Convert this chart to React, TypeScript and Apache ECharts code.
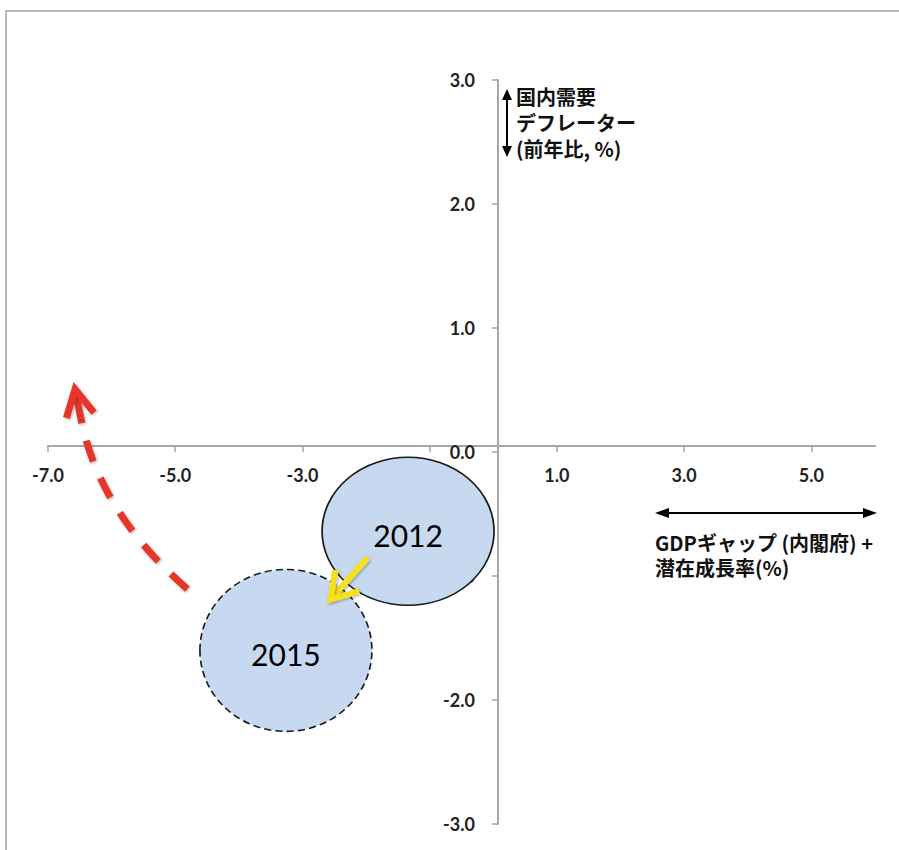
import React, { useEffect, useRef } from "react";
import * as echarts from "echarts";

// ---- data ----
const xTickValues = [-7, -5, -3, -1, 1, 3, 5];
const years = ["2012", "2015"];
const bubbleX = [-1.34, -3.26];
const bubbleY = [-0.64, -1.6];
// yellow arrow: start, tip (data coords)
const yellowArrow = [
  [-1.97, -0.85],
  [-2.56, -1.19],
];
// red dashed arrow: start, control, tip (data coords)
const redArrow = [
  [-4.81, -1.105],
  [-6.19, -0.488],
  [-6.575, 0.505],
];
const yTitleLines = ["国内需要", "デフレーター", "(前年比, %)"];
const xTitleLines = ["GDPギャップ (内閣府) +", "潜在成長率(%)"];

// ---- styles ----
const bubbleSizes = [
  [172, 148],
  [172, 162],
];
const bubbleBorder = ["solid", [7, 4]];
const ELLIPSE = "path://M0,50A50,50,0,1,1,100,50A50,50,0,1,1,0,50Z";
const AXIS_GRAY = "#a6a6a6";
const CJK = "'Noto Sans CJK JP', 'Noto Sans', sans-serif";
const GRID = { left: 48, right: 24, top: 80, bottom: 26 };
const W = 899;
const H = 850;

function head(tip: number[], from: number[], len: number, deg: number) {
  const dx = from[0] - tip[0];
  const dy = from[1] - tip[1];
  const d = Math.hypot(dx, dy) || 1;
  const ux = dx / d;
  const uy = dy / d;
  const a = (deg * Math.PI) / 180;
  const r = (s: number) => [
    tip[0] + len * (ux * Math.cos(s * a) - uy * Math.sin(s * a)),
    tip[1] + len * (ux * Math.sin(s * a) + uy * Math.cos(s * a)),
  ];
  return [r(1), [tip[0], tip[1]], r(-1)];
}

export default function App() {
  const ref = useRef<HTMLDivElement>(null);
  useEffect(() => {
    if (!ref.current) return;
    const chart = echarts.init(ref.current, undefined, { renderer: "svg" });
    const labelStyle = {
      color: "#222222",
      fontFamily: "Lato, 'Open Sans', sans-serif",
      fontWeight: "bold" as const,
      fontSize: 18,
      formatter: (v: number) => Number(v).toFixed(1),
    };
    const titleStyle = {
      fontFamily: CJK,
      fontSize: 20,
      fontWeight: "bold",
      fill: "#111",
      align: "left",
      verticalAlign: "top",
    };
    const option: any = {
      animation: false,
      backgroundColor: "#ffffff",
      grid: { ...GRID, containLabel: false },
      xAxis: {
        type: "value",
        min: -7,
        max: 6,
        position: "bottom",
        offset: 0,
        splitLine: { show: false },
        axisLine: { show: true, onZero: false, lineStyle: { color: AXIS_GRAY, width: 2 } },
        axisTick: { show: true, length: 6, customValues: xTickValues, lineStyle: { color: AXIS_GRAY, width: 1.5 } },
        axisLabel: { ...labelStyle, margin: 20, customValues: xTickValues },
      },
      yAxis: {
        type: "value",
        min: -3,
        max: 3,
        interval: 1,
        position: "left",
        offset: 0,
        splitLine: { show: false },
        axisLine: { show: true, onZero: false, lineStyle: { color: AXIS_GRAY, width: 2 } },
        axisTick: { show: true, length: 6, lineStyle: { color: AXIS_GRAY, width: 1.5 } },
        axisLabel: { ...labelStyle, margin: 23, showMinLabel: true, showMaxLabel: true },
      },
      series: [
        {
          type: "scatter",
          z: 3,
          symbol: ELLIPSE,
          data: years.map((name, i) => ({
            name,
            value: [bubbleX[i], bubbleY[i]],
            symbolSize: bubbleSizes[i],
            itemStyle: {
              color: "#c6d9f1",
              borderColor: "#1a1a1a",
              borderWidth: 1.6,
              borderType: bubbleBorder[i],
              opacity: 1,
            },
          })),
          label: {
            show: true,
            position: "inside",
            formatter: "{b}",
            color: "#000",
            fontSize: 30,
            fontFamily: "Lato, 'Open Sans', sans-serif",
            offset: [0, 4],
          },
          emphasis: { disabled: true },
        },
        {
          type: "custom",
          z: 6,
          clip: false,
          data: [[0, 0]],
          renderItem: (_p: any, api: any) => {
            const s = api.coord(yellowArrow[0]);
            const t = api.coord(yellowArrow[1]);
            const shadow = { shadowBlur: 3, shadowColor: "rgba(0,0,0,0.35)", shadowOffsetX: 1, shadowOffsetY: 1 };
            return {
              type: "group",
              children: [
                {
                  type: "line",
                  shape: { x1: s[0], y1: s[1], x2: t[0], y2: t[1] },
                  style: { stroke: "#f5e11c", lineWidth: 6, ...shadow },
                },
                {
                  type: "polyline",
                  shape: { points: head(t, s, 30, 32) },
                  style: { stroke: "#f5e11c", lineWidth: 6, fill: null, lineJoin: "miter", ...shadow },
                },
              ],
            };
          },
        },
        {
          type: "custom",
          z: 6,
          clip: false,
          data: [[0, 0]],
          renderItem: (_p: any, api: any) => {
            const p0 = api.coord(redArrow[0]);
            const c = api.coord(redArrow[1]);
            const p2 = api.coord(redArrow[2]);
            const dx = c[0] - p2[0];
            const dy = c[1] - p2[1];
            const d = Math.hypot(dx, dy);
            const shaftEnd = [p2[0] + (dx / d) * 30, p2[1] + (dy / d) * 30];
            const shadow = { shadowBlur: 3, shadowColor: "rgba(0,0,0,0.3)", shadowOffsetX: 1, shadowOffsetY: 1 };
            return {
              type: "group",
              children: [
                {
                  type: "bezierCurve",
                  shape: { x1: p0[0], y1: p0[1], x2: shaftEnd[0], y2: shaftEnd[1], cpx1: c[0], cpy1: c[1] },
                  style: { stroke: "#e8352b", lineWidth: 7, fill: null, lineDash: [22, 18], ...shadow },
                },
                {
                  type: "line",
                  shape: { x1: shaftEnd[0], y1: shaftEnd[1], x2: p2[0], y2: p2[1] },
                  style: { stroke: "#e8352b", lineWidth: 7, ...shadow },
                },
                {
                  type: "polyline",
                  shape: { points: head(p2, c, 30, 28) },
                  style: { stroke: "#e8352b", lineWidth: 7, fill: null, lineJoin: "miter", ...shadow },
                },
              ],
            };
          },
        },
      ],
      graphic: {
        elements: [
          {
            type: "rect",
            z: 0,
            silent: true,
            shape: { x: 6, y: 11, width: 910, height: 860 },
            style: { fill: null, stroke: "#b8b8b8", lineWidth: 2 },
          },
          // vertical double arrow
          {
            type: "line",
            z: 10,
            shape: { x1: 507, y1: 98, x2: 507, y2: 148 },
            style: { stroke: "#000", lineWidth: 2 },
          },
          {
            type: "polygon",
            z: 10,
            shape: { points: [[507, 89], [502, 100], [512, 100]] },
            style: { fill: "#000" },
          },
          {
            type: "polygon",
            z: 10,
            shape: { points: [[507, 157], [502, 146], [512, 146]] },
            style: { fill: "#000" },
          },
          {
            type: "text",
            z: 10,
            x: 516,
            y: 83,
            style: { text: yTitleLines.join("\n"), lineHeight: 26, ...titleStyle },
          },
          // horizontal double arrow
          {
            type: "line",
            z: 10,
            shape: { x1: 666, y1: 513, x2: 866, y2: 513 },
            style: { stroke: "#000", lineWidth: 2 },
          },
          {
            type: "polygon",
            z: 10,
            shape: { points: [[655, 513], [669, 508], [669, 518]] },
            style: { fill: "#000" },
          },
          {
            type: "polygon",
            z: 10,
            shape: { points: [[877, 513], [863, 508], [863, 518]] },
            style: { fill: "#000" },
          },
          {
            type: "text",
            z: 10,
            x: 655,
            y: 529.5,
            style: { text: xTitleLines.join("\n"), lineHeight: 25, ...titleStyle },
          },
        ],
      },
    };
    chart.setOption(option);
    // move the axes onto the zero lines using the library's own scales
    const x0 = chart.convertToPixel({ xAxisIndex: 0 }, 0) as number;
    const y0 = chart.convertToPixel({ yAxisIndex: 0 }, 0) as number;
    chart.setOption({
      xAxis: { offset: -((H - GRID.bottom) - y0) },
      yAxis: { offset: -(x0 - GRID.left) },
    });
    return () => chart.dispose();
  }, []);
  return (
    <div
      ref={ref}
      style={{ position: "absolute", left: 0, top: 0, width: W, height: H, background: "#fff" }}
    />
  );
}
